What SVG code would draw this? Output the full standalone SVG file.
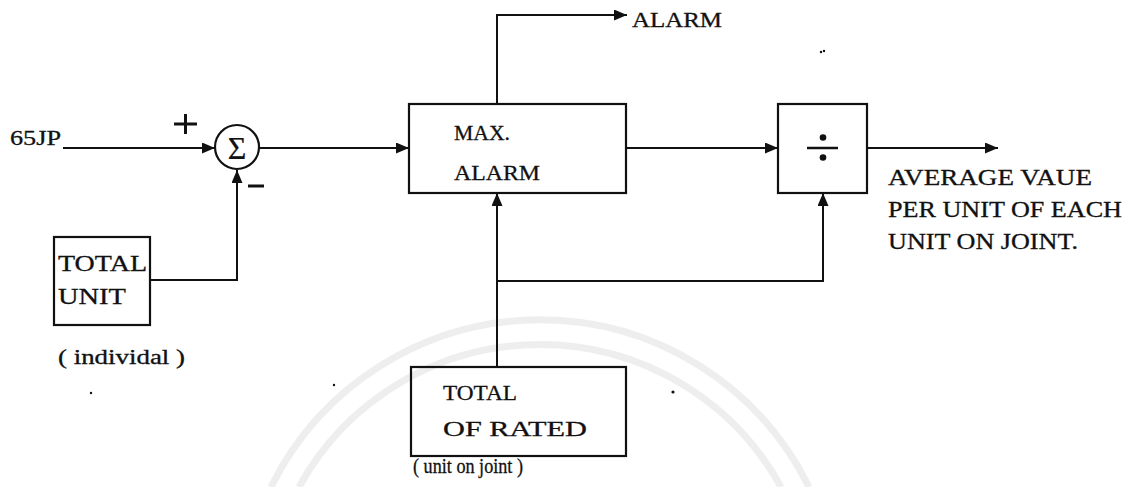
<svg xmlns="http://www.w3.org/2000/svg" width="1139" height="487" viewBox="0 0 1139 487">
<style>
text{font-family:"Liberation Serif","Times New Roman",serif;font-size:22px;fill:#111;stroke:#111;stroke-width:0.3}
.b{fill:none;stroke:#111;stroke-width:2.2}
.c{fill:none;stroke:#111;stroke-width:2}
.w{fill:none;stroke:#eeeeee;stroke-width:7}
</style>
<defs>
<marker id="ah" viewBox="0 0 13 11" refX="13" refY="5.5" markerWidth="13" markerHeight="11" markerUnits="userSpaceOnUse" orient="auto">
<path d="M0,0 L13,5.5 L0,11 Z" fill="#111"/>
</marker>
</defs>
<rect width="1139" height="487" fill="#fff"/>
<g id="watermark">
<path class="w" d="M271,487 A300,300 0 0 1 809,487"/>
<path class="w" d="M299,487 A275,275 0 0 1 781,487"/>
</g>
<g id="connectors">
<path class="c" d="M63,148 H215" marker-end="url(#ah)"/>
<path class="c" d="M259,148 H409" marker-end="url(#ah)"/>
<path class="c" d="M150,280 H237 V170" marker-end="url(#ah)"/>
<path class="c" d="M497,104 V15 H627" marker-end="url(#ah)"/>
<path class="c" d="M626,148 H778" marker-end="url(#ah)"/>
<path class="c" d="M867,148 H998" marker-end="url(#ah)"/>
<path class="c" d="M497,367 V193" marker-end="url(#ah)"/>
<path class="c" d="M497,281 H823 V193" marker-end="url(#ah)"/>
</g>
<g id="input">
<text x="10" y="145" textLength="51" lengthAdjust="spacingAndGlyphs">65JP</text>
<path d="M174,124 H197 M185.5,114 V134" stroke="#111" stroke-width="3" fill="none"/>
<path d="M248,186 H264" stroke="#111" stroke-width="3" fill="none"/>
</g>
<g id="sum">
<circle class="b" cx="237" cy="147" r="22"/>
<text x="237" y="159" text-anchor="middle" style="font-size:32px;stroke-width:0.2">Σ</text>
</g>
<g id="total-unit">
<rect class="b" x="54" y="237" width="96" height="88"/>
<text x="58" y="271" textLength="89" lengthAdjust="spacingAndGlyphs" style="font-size:24px">TOTAL</text>
<text x="58" y="304" textLength="68" lengthAdjust="spacingAndGlyphs" style="font-size:24px">UNIT</text>
<text x="58" y="364" textLength="127" lengthAdjust="spacingAndGlyphs" style="font-size:20px">( individal )</text>
</g>
<g id="max-alarm">
<rect class="b" x="409" y="104" width="217" height="89"/>
<text x="454" y="140" textLength="56" lengthAdjust="spacingAndGlyphs">MAX.</text>
<text x="454" y="180" textLength="86" lengthAdjust="spacingAndGlyphs">ALARM</text>
<text x="632" y="27" textLength="90" lengthAdjust="spacingAndGlyphs" style="font-size:21px">ALARM</text>
</g>
<g id="divide">
<rect class="b" x="778" y="104" width="89" height="89"/>
<line x1="807" y1="148" x2="838" y2="148" stroke="#111" stroke-width="2.5"/>
<circle cx="823" cy="137.5" r="3.3" fill="#111"/>
<circle cx="823" cy="157.5" r="3.3" fill="#111"/>
</g>
<g id="output">
<text x="888" y="185" textLength="204" lengthAdjust="spacingAndGlyphs" style="font-size:23px">AVERAGE VAUE</text>
<text x="888" y="217" textLength="234" lengthAdjust="spacingAndGlyphs" style="font-size:23px">PER UNIT OF EACH</text>
<text x="888" y="249" textLength="190" lengthAdjust="spacingAndGlyphs" style="font-size:23px">UNIT ON JOINT.</text>
</g>
<g id="total-rated">
<rect class="b" x="411" y="367" width="215" height="89"/>
<text x="443" y="400" textLength="74" lengthAdjust="spacingAndGlyphs">TOTAL</text>
<text x="443" y="436" textLength="144" lengthAdjust="spacingAndGlyphs">OF RATED</text>
<text x="413" y="473" textLength="110" lengthAdjust="spacingAndGlyphs" style="font-size:21px">( unit on joint )</text>
</g>
<g id="specks" fill="#111">
<circle cx="821" cy="52" r="1.2"/><circle cx="824" cy="51" r="1.2"/>
<circle cx="91" cy="393" r="1.2"/>
<circle cx="334" cy="385" r="1.2"/>
<circle cx="673" cy="392" r="1.6"/>
</g>
</svg>
